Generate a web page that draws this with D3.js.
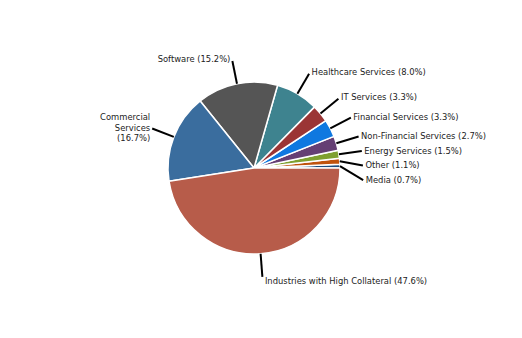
<!DOCTYPE html>
<html><head><meta charset="utf-8">
<script src="https://cdn.jsdelivr.net/npm/d3@7"></script>
<style>body{margin:0;background:#fff}svg{display:block}</style>
</head><body>
<svg id="c" width="522" height="338"></svg>
<script>
const categories = ["Media","Other","Energy Services","Non-Financial Services","Financial Services","IT Services","Healthcare Services","Software","Commercial Services","Industries with High Collateral"];
const values = [0.7,1.1,1.5,2.7,3.3,3.3,8.0,15.2,16.7,47.6];
const colors = ["#1c4e80","#c0530d","#7fa030","#653f74","#0f78e0","#9b3535","#3e838f","#555555","#3a6d9e","#b75c4a"];
const labelLines = [
  ["Media (0.7%)"],["Other (1.1%)"],["Energy Services (1.5%)"],["Non-Financial Services (2.7%)"],
  ["Financial Services (3.3%)"],["IT Services (3.3%)"],["Healthcare Services (8.0%)"],["Software (15.2%)"],
  ["Commercial","Services","(16.7%)"],["Industries with High Collateral (47.6%)"]
];

const svg = d3.select("#c");
const cx = 254, cy = 168, r = 86;
const g = svg.append("g").attr("transform", `translate(${cx},${cy})`);

const pie = d3.pie().sort(null).value(d => d).startAngle(Math.PI/2).endAngle(Math.PI/2 - 2*Math.PI);
const arcs = pie(values);
const arc = d3.arc().innerRadius(0).outerRadius(r);

g.selectAll("path.w").data(arcs).join("path")
  .attr("class","w")
  .attr("d", arc)
  .attr("fill", (d,i) => colors[i])
  .attr("stroke", "#fff").attr("stroke-width", 1.5).attr("stroke-linejoin","round");

const ext = 1.27;
const info = arcs.map((d,i) => {
  const a = (d.startAngle + d.endAngle)/2;
  const sx = Math.sin(a), sy = -Math.cos(a);
  return {i, sx, sy, x0: sx*r, y0: sy*r, x1: sx*r*ext, y1: sy*r*ext};
});
const right = info.filter(d => d.sx > 0 && Math.abs(d.sy) < 0.9).sort((a,b) => a.y1 - b.y1);
for (let k = 1; k < right.length; k++) {
  if (right[k].y1 < right[k-1].y1 + 14.5) right[k].y1 = right[k-1].y1 + 14.5;
}

g.selectAll("line.l").data(info).join("line")
  .attr("class","l")
  .attr("x1", d => d.x0).attr("y1", d => d.y0)
  .attr("x2", d => d.x1).attr("y2", d => d.y1)
  .attr("stroke", "#000").attr("stroke-width", 2);

const fs = 8.4, lh = 10.5;
info.forEach(d => {
  const lines = labelLines[d.i];
  const left = d.sx < 0;
  const tx = d.x1 + (left ? -2 : 2.5);
  const cyText = d.y1 + (d.sy < 0 ? 2 : 4)*d.sy;
  const t = g.append("text")
    .attr("font-family", "DejaVu Sans, sans-serif")
    .attr("font-size", fs)
    .attr("fill", "#222")
    .attr("text-anchor", left ? "end" : "start");
  const top = cyText - (lines.length-1)*lh/2;
  lines.forEach((s, j) => {
    t.append("tspan").attr("x", tx).attr("y", top + j*lh).attr("dy", "0.35em").text(s);
  });
});
</script>
</body></html>
